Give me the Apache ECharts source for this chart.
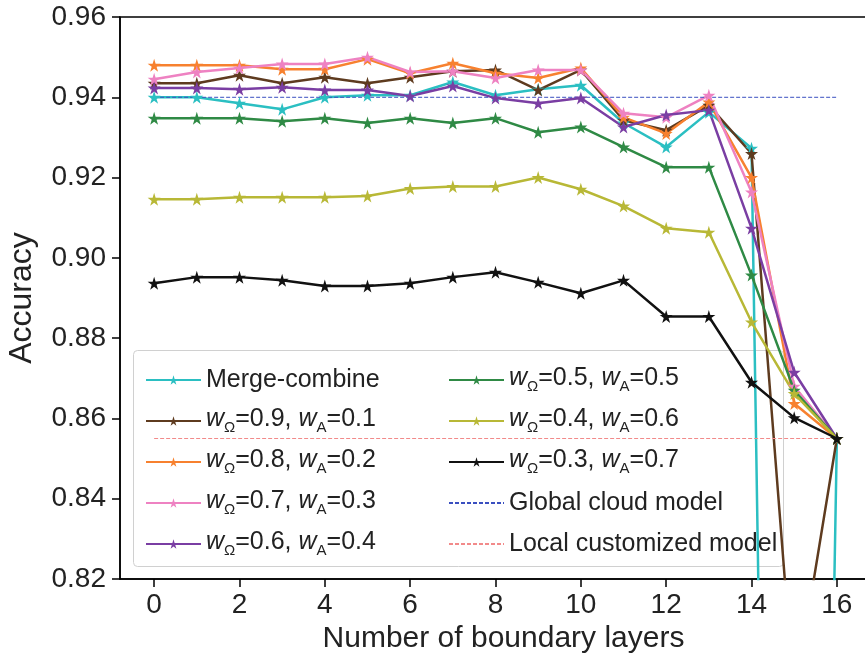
<!DOCTYPE html>
<html>
<head>
<meta charset="utf-8">
<script src="https://cdn.jsdelivr.net/npm/echarts@6/dist/echarts.min.js"></script>
<style>
html,body{margin:0;padding:0;background:#fff;}
#chart{width:865px;height:653px;}
</style>
</head>
<body>
<div id="chart"></div>
<script>
// x: number of boundary layers
var layers = [0,1,2,3,4,5,6,7,8,9,10,11,12,13,14,15,16];
var xTicks = [0,2,4,6,8,10,12,14,16];

var mergeCombine = [0.940,0.940,0.9385,0.937,0.940,0.9405,0.9405,0.9438,0.9405,0.942,0.943,0.9336,0.9276,0.9363,0.9273,0.25,0.855];
var w09 = [0.9435,0.9435,0.9455,0.9435,0.945,0.9435,0.945,0.9465,0.9468,0.9418,0.9468,0.9343,0.9318,0.938,0.926,0.79,0.855];
var w08 = [0.948,0.948,0.948,0.947,0.947,0.9495,0.946,0.9485,0.946,0.9448,0.9473,0.935,0.931,0.9388,0.920,0.8637,0.855];
var w07 = [0.9445,0.9463,0.9473,0.9483,0.9483,0.950,0.9463,0.9465,0.9448,0.9468,0.9468,0.936,0.935,0.9405,0.9164,0.868,0.855];
var w06 = [0.9423,0.9423,0.942,0.9425,0.9418,0.9418,0.9403,0.9428,0.9398,0.9385,0.9398,0.9326,0.9356,0.9368,0.9074,0.8715,0.855];
var w05 = [0.9348,0.9348,0.9348,0.934,0.9348,0.9336,0.9348,0.9336,0.9348,0.9313,0.9326,0.9276,0.9226,0.9226,0.8957,0.867,0.855];
var w04 = [0.9146,0.9146,0.9151,0.9151,0.9151,0.9154,0.9173,0.9178,0.9178,0.920,0.9171,0.9129,0.9074,0.9064,0.884,0.8662,0.855];
var w03 = [0.8937,0.8952,0.8952,0.8944,0.893,0.893,0.8937,0.8952,0.8964,0.8939,0.8912,0.8944,0.8854,0.8854,0.869,0.8602,0.855];
var globalCloud = 0.940;
var localModel = 0.855;

var star = 'path://M50,0 L61,35 L98,35 L68,57 L79,91 L50,70 L21,91 L32,57 L2,35 L39,35 Z';

function pts(arr){
  return layers.map(function(x,i){ return [x, arr[i]]; });
}
function flat(v){
  return [[layers[0], v],[layers[layers.length-1], v]];
}
function mk(name, arr, color){
  return {
    name: name, type: 'line', data: pts(arr),
    symbol: star, symbolSize: 13, showSymbol: true,
    lineStyle: {color: color, width: 2.5},
    itemStyle: {color: color},
    clip: true
  };
}
function dash(name, v, color){
  return {
    name: name, type: 'line', data: flat(v), symbol: 'none',
    lineStyle: {color: color, width: 1, type: [4,2]},
    itemStyle: {color: color}
  };
}

var names1 = ['Merge-combine','wΩ=0.9, wA=0.1','wΩ=0.8, wA=0.2','wΩ=0.7, wA=0.3','wΩ=0.6, wA=0.4'];
var names2 = ['wΩ=0.5, wA=0.5','wΩ=0.4, wA=0.6','wΩ=0.3, wA=0.7','Global cloud model','Local customized model'];

var legendText = {
  fontSize: 25, color: '#222', fontFamily: 'Liberation Sans', lineHeight: 28,
  rich: {
    t: {fontSize: 25, lineHeight: 28, verticalAlign: 'top', color: '#222', fontFamily: 'Liberation Sans'},
    i: {fontSize: 25, lineHeight: 28, verticalAlign: 'top', fontStyle: 'italic', color: '#222', fontFamily: 'Liberation Sans'},
    s: {fontSize: 15, lineHeight: 10, verticalAlign: 'bottom', color: '#222', fontFamily: 'Liberation Sans'}
  }
};
function fmt(name){
  if (name.charAt(0) !== 'w') return name;
  return name.replace(/w([ΩA])=([0-9.]+)(, )?/g, '{i|w}{s|$1}{t|=$2$3}');
}
// dashed reference lines: line only in the legend, no marker
function legendData(list){
  return list.map(function(n){
    if (n === 'Global cloud model' || n === 'Local customized model') {
      return {name: n, itemStyle: {opacity: 0}};
    }
    return {name: n};
  });
}

var myChart = echarts.init(document.getElementById('chart'));
var option = {
  animation: false,
  backgroundColor: '#fff',
  grid: {
    left: 120, right: -6, top: 17, bottom: 74,
    outerBoundsMode: 'none', containLabel: false,
    show: true, borderColor: '#000', borderWidth: 1.5, backgroundColor: 'transparent'
  },
  graphic: {
    elements: [{
      type: 'rect', left: 133, top: 350, z: 3,
      shape: {width: 650, height: 216, r: 4},
      style: {fill: 'rgba(255,255,255,0.8)', stroke: '#d0d0d0', lineWidth: 1}
    }]
  },
  legend: [
    {
      left: 140, top: 361, orient: 'vertical', z: 5,
      itemWidth: 55, itemHeight: 12, itemGap: 13, itemTextGap: 10,
      textStyle: legendText, formatter: fmt, data: legendData(names1)
    },
    {
      left: 443, top: 361, orient: 'vertical', z: 5,
      itemWidth: 55, itemHeight: 12, itemGap: 13, itemTextGap: 10,
      textStyle: legendText, formatter: fmt, data: legendData(names2)
    }
  ],
  xAxis: {
    type: 'value', min: -0.8, max: 16.8,
    name: 'Number of boundary layers', nameLocation: 'middle', nameGap: 43,
    nameTextStyle: {fontSize: 30, color: '#222', fontFamily: 'Liberation Sans', padding: [0, 0, 0, 16]},
    axisLine: {show: true, onZero: false, lineStyle: {color: '#000', width: 1.5}},
    axisTick: {show: true, inside: false, length: 8, customValues: xTicks, lineStyle: {color: '#000', width: 1.5}},
    axisLabel: {fontSize: 28, color: '#222', margin: 12, fontFamily: 'Liberation Sans', customValues: xTicks},
    splitLine: {show: false}
  },
  yAxis: {
    type: 'value', min: 0.82, max: 0.96, interval: 0.02,
    name: 'Accuracy', nameLocation: 'middle', nameGap: 82,
    nameTextStyle: {fontSize: 32, color: '#222', fontFamily: 'Liberation Sans'},
    axisLine: {show: true, onZero: false, lineStyle: {color: '#000', width: 1.5}},
    axisTick: {show: true, inside: false, length: 8, lineStyle: {color: '#000', width: 1.5}},
    axisLabel: {fontSize: 28, color: '#222', margin: 14, fontFamily: 'Liberation Sans',
      formatter: function(v){ return v.toFixed(2); }},
    splitLine: {show: false}
  },
  series: [
    mk('Merge-combine', mergeCombine, '#2bbfc2'),
    mk('wΩ=0.9, wA=0.1', w09, '#5e3b1f'),
    mk('wΩ=0.8, wA=0.2', w08, '#f7812f'),
    mk('wΩ=0.7, wA=0.3', w07, '#ee82c2'),
    mk('wΩ=0.6, wA=0.4', w06, '#7a3ea3'),
    mk('wΩ=0.5, wA=0.5', w05, '#2f8a45'),
    mk('wΩ=0.4, wA=0.6', w04, '#b8b836'),
    mk('wΩ=0.3, wA=0.7', w03, '#111111'),
    dash('Global cloud model', globalCloud, '#3a4fc0'),
    dash('Local customized model', localModel, '#f28a8a')
  ]
};
myChart.setOption(option);
</script>
</body>
</html>
